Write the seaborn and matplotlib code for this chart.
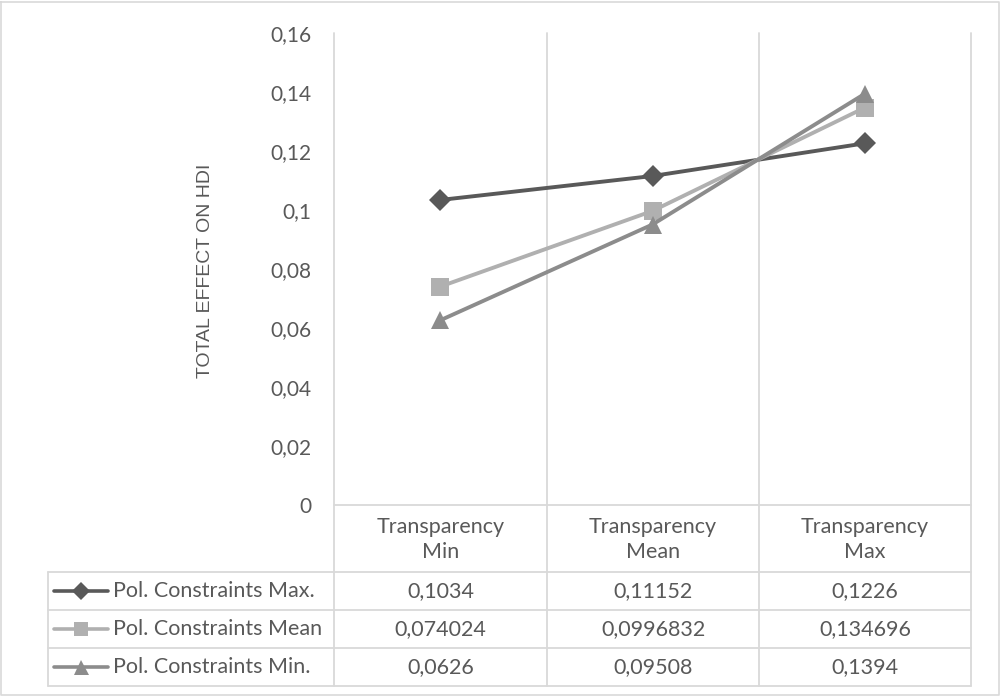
import matplotlib
matplotlib.use("Agg")
import matplotlib.pyplot as plt
import seaborn as sns
import pandas as pd

categories = ["Transparency\nMin", "Transparency\nMean", "Transparency\nMax"]
series_names = ["Pol. Constraints Max.", "Pol. Constraints Mean", "Pol. Constraints Min."]
max_vals = [0.1034, 0.11152, 0.1226]
mean_vals = [0.074024, 0.0996832, 0.134696]
min_vals = [0.0626, 0.09508, 0.1394]
table_text = [
    ["0,1034", "0,11152", "0,1226"],
    ["0,074024", "0,0996832", "0,134696"],
    ["0,0626", "0,09508", "0,1394"],
]
yticks = [0, 0.02, 0.04, 0.06, 0.08, 0.1, 0.12, 0.14, 0.16]
ytick_labels = ["0", "0,02", "0,04", "0,06", "0,08", "0,1", "0,12", "0,14", "0,16"]

colors = {series_names[0]: "#595959", series_names[1]: "#b0b0b0", series_names[2]: "#8c8c8c"}
markers = {series_names[0]: "D", series_names[1]: "s", series_names[2]: "^"}
msize = {"D": 11, "s": 12.5, "^": 13.5}

rows = []
for name, vals in zip(series_names, [max_vals, mean_vals, min_vals]):
    for i, v in enumerate(vals):
        rows.append({"pos": i, "value": v, "series": name})
df = pd.DataFrame(rows)

sns.set_style("white")
plt.rcParams["font.family"] = ["Lato", "DejaVu Sans"]
txt = "#595959"
grid = "#d9d9d9"
fs = 15
fs_tab = 15.5

W, H = 1001, 697
fig = plt.figure(figsize=(W / 100, H / 100), dpi=100)

# pixel-coordinate overlay for table and border
bg = fig.add_axes([0, 0, 1, 1])
bg.set_xlim(0, W)
bg.set_ylim(H, 0)
bg.axis("off")

x0, x1, x2, x3 = 334, 547, 759, 971
top, base = 33, 505
r0, r1, r2, r3 = 572, 610, 648, 686
tl = 48

ax = fig.add_axes([x0 / W, 1 - base / H, (x3 - x0) / W, (base - top) / H])
sns.lineplot(data=df, x="pos", y="value", hue="series", style="series",
             palette=colors, markers=markers, dashes=False, linewidth=2.8,
             markersize=12, markeredgewidth=0, legend=False, ax=ax, zorder=3)
for ln in ax.lines:
    m = ln.get_marker()
    if m in msize:
        ln.set_markersize(msize[m])
ax.set_xlim(-0.5, 2.5)
ax.set_ylim(0, 0.16)
ax.set_xticks([])
ax.set_yticks(yticks)
ax.set_yticklabels(ytick_labels, fontsize=fs, color=txt)
ax.tick_params(axis="y", length=0, pad=16)
ax.set_xlabel("")
ax.set_ylabel("")
for s in ax.spines.values():
    s.set_visible(False)
ax.patch.set_alpha(0)
ax.set_zorder(2)

fig.text(205 / W, 1 - 271 / H, "TOTAL EFFECT ON HDI", rotation=90, ha="center",
         va="center", fontsize=14, color=txt, family=["Liberation Sans", "DejaVu Sans"])

lw = 1.3
# vertical lines
for x in [x0, x1, x2, x3]:
    bg.plot([x, x], [top, r3], color=grid, lw=lw, zorder=1)
bg.plot([tl, tl], [r0, r3], color=grid, lw=lw, zorder=1)
# horizontal lines
bg.plot([x0, x3], [base, base], color=grid, lw=lw, zorder=1)
for y in [r0, r1, r2, r3]:
    bg.plot([tl, x3], [y, y], color=grid, lw=lw, zorder=1)

# outer border
bg.plot([1, W - 2, W - 2, 1, 1], [2, 2, H - 2, H - 2, 2], color="#d9d9d9", lw=1.2)

centers = [(x0 + x1) / 2, (x1 + x2) / 2, (x2 + x3) / 2]
for c, lab in zip(centers, categories):
    bg.text(c, (base + r0) / 2 + 1, lab, ha="center", va="center", fontsize=fs_tab,
            color=txt, linespacing=1.35)

row_mid = [(r0 + r1) / 2, (r1 + r2) / 2, (r2 + r3) / 2]
for i, name in enumerate(series_names):
    y = row_mid[i]
    bg.plot([54, 108], [y, y], color=colors[name], lw=2.6, zorder=3)
    bg.plot([81], [y], marker=markers[name], color=colors[name],
            markersize=msize[markers[name]] * 0.8, markeredgewidth=0, zorder=4)
    bg.text(113, y, name, ha="left", va="center", fontsize=fs_tab, color=txt)
    for c, t in zip(centers, table_text[i]):
        bg.text(c, y, t, ha="center", va="center", fontsize=fs_tab, color=txt)

fig.savefig("out.png", dpi=100)
